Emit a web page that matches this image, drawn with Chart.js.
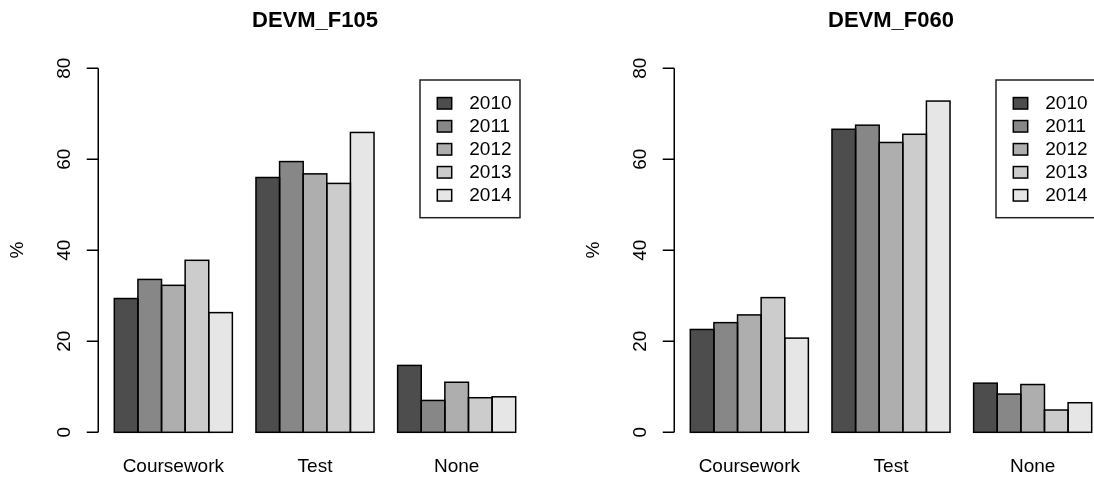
<!DOCTYPE html>
<html>
<head>
<meta charset="utf-8">
<title>DEVM_F105 / DEVM_F060</title>
<script src="https://cdn.jsdelivr.net/npm/chart.js@4/dist/chart.umd.min.js"></script>
<style>
  html, body { margin: 0; padding: 0; background: #fff; overflow: hidden; }
  body { width: 1094px; height: 481px; position: relative; }
  .panel { position: absolute; top: 0; width: 547px; height: 481px; }
  #p1 { left: 0; }
  #p2 { left: 576px; }
</style>
</head>
<body>
<div class="panel" id="p1"><canvas id="c1" width="547" height="481"></canvas></div>
<div class="panel" id="p2"><canvas id="c2" width="547" height="481"></canvas></div>
<script>
// Assessment type shares (%) by year
const categories = ['Coursework', 'Test', 'None'];
const years = ['2010', '2011', '2012', '2013', '2014'];
const yTicks = [0, 20, 40, 60, 80];

const F105_2010 = [29.4, 56.0, 14.7];
const F105_2011 = [33.6, 59.5, 7.0];
const F105_2012 = [32.3, 56.8, 11.0];
const F105_2013 = [37.8, 54.7, 7.6];
const F105_2014 = [26.3, 65.9, 7.8];

const F060_2010 = [22.6, 66.6, 10.8];
const F060_2011 = [24.1, 67.5, 8.4];
const F060_2012 = [25.8, 63.7, 10.5];
const F060_2013 = [29.6, 65.5, 4.9];
const F060_2014 = [20.7, 72.8, 6.5];

const yearColors = ['#4D4D4D', '#878787', '#AEAEAE', '#CCCCCC', '#E6E6E6'];
const FONT = '"Liberation Sans", Arial, Helvetica, sans-serif';

// Base-graphics look: left axis, outlined bars, titles, boxed legend
const baseStyle = {
  id: 'baseStyle',
  afterDatasetsDraw(chart) {
    const ctx = chart.ctx;
    const area = chart.chartArea;
    const xs = chart.scales.x;
    const ys = chart.scales.y;
    const unit = area.width / 18;
    const axisX = area.left - 0.18 * unit;

    ctx.save();
    // bar outlines
    ctx.strokeStyle = '#000';
    ctx.lineWidth = 1.5;
    chart.data.datasets.forEach((ds, i) => {
      chart.getDatasetMeta(i).data.forEach(bar => {
        const p = bar.getProps(['x', 'y', 'width', 'base'], true);
        ctx.strokeRect(p.x - p.width / 2, p.y, p.width, p.base - p.y);
      });
    });

    // y axis
    const y0 = ys.getPixelForValue(yTicks[0]);
    const y1 = ys.getPixelForValue(yTicks[yTicks.length - 1]);
    ctx.beginPath();
    ctx.moveTo(axisX, y0);
    ctx.lineTo(axisX, y1);
    yTicks.forEach(v => {
      const py = ys.getPixelForValue(v);
      ctx.moveTo(axisX, py);
      ctx.lineTo(axisX - 11.5, py);
    });
    ctx.stroke();

    ctx.fillStyle = '#000';
    ctx.font = '19px ' + FONT;
    ctx.textAlign = 'center';
    ctx.textBaseline = 'middle';
    yTicks.forEach(v => {
      const py = ys.getPixelForValue(v);
      ctx.save();
      ctx.translate(axisX - 33.5, py);
      ctx.rotate(-Math.PI / 2);
      ctx.fillText(String(v), 0, 0);
      ctx.restore();
    });

    // y axis title
    ctx.save();
    ctx.translate(axisX - 80, 250);
    ctx.rotate(-Math.PI / 2);
    ctx.fillText('%', 0, 0);
    ctx.restore();

    // category labels
    categories.forEach((c, i) => {
      ctx.fillText(c, xs.getPixelForValue(i), 467);
    });

    // main title
    ctx.font = 'bold 22px ' + FONT;
    ctx.fillText(chart.options.plugins.baseStyle.title, (area.left + area.right) / 2, 21);

    // legend
    const boxRight = area.right - 7.5;
    const boxLeft = boxRight - 100;
    const boxTop = 80;
    const boxBottom = 217.7;
    ctx.lineWidth = 1.5;
    ctx.strokeStyle = '#222';
    ctx.strokeRect(boxLeft, boxTop, boxRight - boxLeft, boxBottom - boxTop);
    ctx.font = '19px ' + FONT;
    ctx.textAlign = 'left';
    chart.data.datasets.forEach((ds, i) => {
      const cy = 103.3 + i * 23;
      ctx.fillStyle = ds.backgroundColor;
      ctx.fillRect(boxLeft + 17.3, cy - 5.75, 14.4, 11.5);
      ctx.strokeStyle = '#000';
      ctx.strokeRect(boxLeft + 17.3, cy - 5.75, 14.4, 11.5);
      ctx.fillStyle = '#000';
      ctx.fillText(ds.label, boxLeft + 49.3, cy + 0.5);
    });
    ctx.restore();
  }
};

function makePanel(canvasId, title, series) {
  return new Chart(document.getElementById(canvasId), {
    type: 'bar',
    data: {
      labels: categories,
      datasets: series.map((vals, i) => ({
        label: years[i],
        data: vals,
        backgroundColor: yearColors[i],
        borderWidth: 0
      }))
    },
    options: {
      responsive: false,
      animation: false,
      events: [],
      layout: { padding: { left: 102.5, right: 19.5, top: 68.3, bottom: 48.7 } },
      datasets: { bar: { categoryPercentage: 5 / 6, barPercentage: 1 } },
      scales: {
        x: { display: false, offset: true },
        y: { display: false, min: 0, max: 80 }
      },
      plugins: {
        legend: { display: false },
        tooltip: { enabled: false },
        baseStyle: { title: title }
      }
    },
    plugins: [baseStyle]
  });
}

makePanel('c1', 'DEVM_F105', [F105_2010, F105_2011, F105_2012, F105_2013, F105_2014]);
makePanel('c2', 'DEVM_F060', [F060_2010, F060_2011, F060_2012, F060_2013, F060_2014]);
</script>
</body>
</html>
